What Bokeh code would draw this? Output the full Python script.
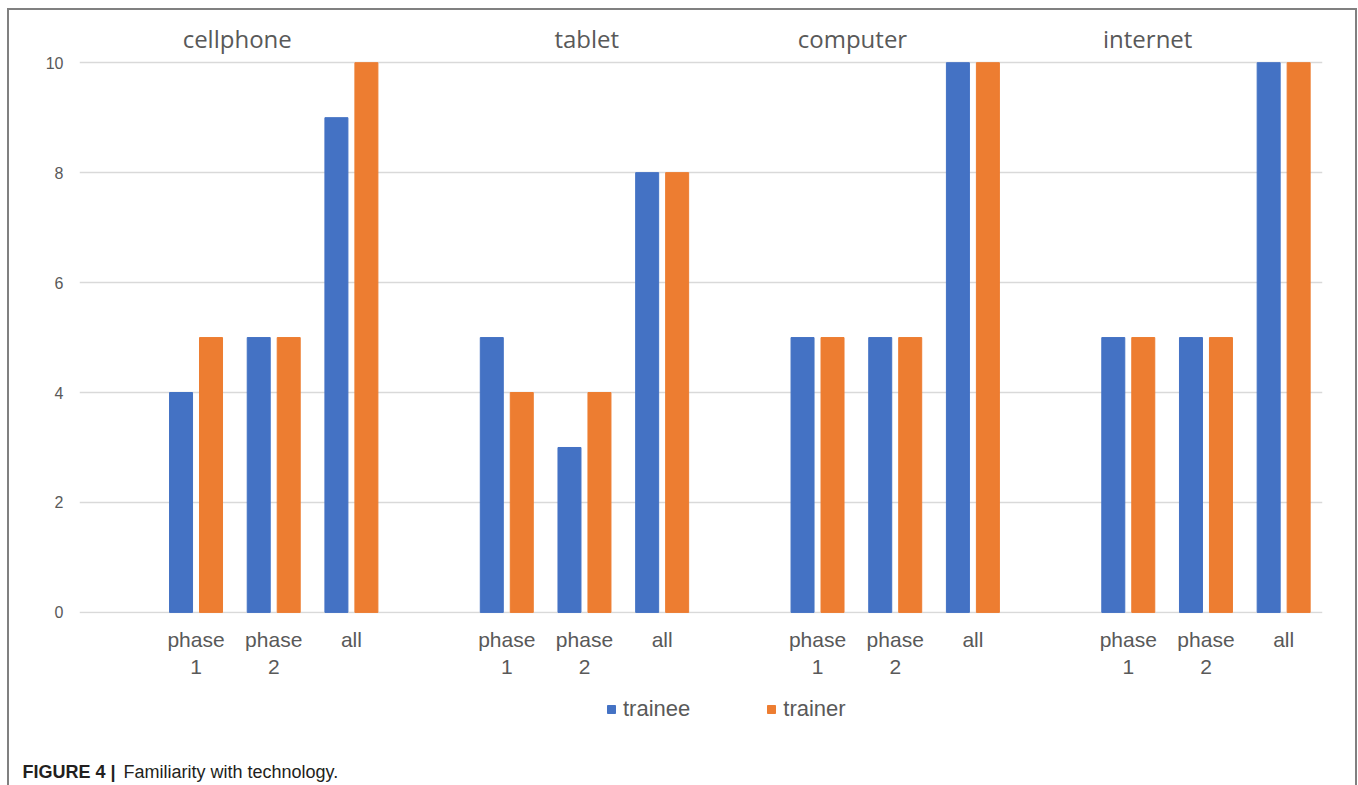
from bokeh.plotting import figure
from bokeh.models import (ColumnDataSource, Range1d, Legend, LegendItem, FixedTicker,
                          LinearAxis, Label)
from bokeh.layouts import column
from bokeh.transform import dodge
from bokeh.embed import file_html
from bokeh.resources import INLINE

# ---- data ----
groups = ["cellphone", "tablet", "computer", "internet"]
phases = ["phase 1", "phase 2", "all"]
phase_labels = ["phase\n1", "phase\n2", "all"]
trainee = [4, 5, 9, 5, 3, 8, 5, 5, 10, 5, 5, 10]
trainer = [5, 5, 10, 4, 4, 8, 5, 5, 10, 5, 5, 10]
y_ticks = [0, 2, 4, 6, 8, 10]
series_names = ["trainee", "trainer"]
caption_bold = "FIGURE 4 |"
caption_text = "Familiarity with technology."

BLUE = "#4472C4"
ORANGE = "#ED7D31"
GREY = "#595959"

# category slots: each group = one empty slot + the three phases
slots_per_group = len(phases) + 1
bar_pos, bar_lab = [], []
for gi, g in enumerate(groups):
    for pj, lab in enumerate(phase_labels):
        bar_pos.append(gi * slots_per_group + 1 + pj + 0.5)
        bar_lab.append(lab)
n_slots = len(groups) * slots_per_group

src = ColumnDataSource(dict(x=bar_pos, trainee=trainee, trainer=trainer))

# content box (inside the outer border)
CW, PH, BH = 1346, 680, 95
p = figure(width=CW, height=PH, x_range=Range1d(0, n_slots), y_range=Range1d(-0.02, 10.04),
           output_backend="svg", toolbar_location=None,
           min_border_left=70, min_border_right=33, min_border_top=50, min_border_bottom=77)
p.frame_align = False
p.outline_line_color = None
p.border_fill_color = "white"

r1 = p.vbar(x=dodge("x", -0.193), top="trainee", width=0.296, source=src,
            fill_color=BLUE, line_color=BLUE)
r2 = p.vbar(x=dodge("x", 0.193), top="trainer", width=0.296, source=src,
            fill_color=ORANGE, line_color=ORANGE)

# x axis (category labels)
xa = p.xaxis[0]
xa.ticker = FixedTicker(ticks=bar_pos)
xa.major_label_overrides = {pos: lab for pos, lab in zip(bar_pos, bar_lab)}
xa.axis_line_color = None
xa.major_tick_line_color = None
xa.minor_tick_line_color = None
xa.major_tick_out = 0
xa.major_label_text_font = "Liberation Sans"
xa.major_label_text_font_size = "21px"
xa.major_label_text_color = GREY
xa.major_label_standoff = 14

# group titles drawn as an axis above the plot
title_x = [2.03, 6.53, 9.95, 13.75]
ta = LinearAxis(ticker=FixedTicker(ticks=title_x),
                major_label_overrides={tx: g for tx, g in zip(title_x, groups)},
                axis_line_color=None, major_tick_line_color=None, minor_tick_line_color=None,
                major_tick_out=0, major_label_standoff=6,
                major_label_text_font="Open Sans", major_label_text_font_size="24px",
                major_label_text_color=GREY)
p.add_layout(ta, "above")

# y axis
p.yaxis.ticker = FixedTicker(ticks=y_ticks)
p.yaxis.axis_line_color = None
p.yaxis.major_tick_line_color = None
p.yaxis.minor_tick_line_color = None
p.yaxis.major_tick_out = 0
p.yaxis.major_label_text_font = "Liberation Sans"
p.yaxis.major_label_text_font_size = "16px"
p.yaxis.major_label_text_color = GREY
p.yaxis.major_label_standoff = 16

p.xgrid.grid_line_color = None
p.ygrid.grid_line_color = "#d9d9d9"
p.ygrid.grid_line_width = 1.5
p.ygrid.ticker = FixedTicker(ticks=y_ticks)

# bottom strip: legend + caption (pixel-unit ranges)
q = figure(width=CW, height=BH, x_range=Range1d(0, CW), y_range=Range1d(0, BH),
           output_backend="svg", toolbar_location=None,
           x_axis_location=None, y_axis_location=None,
           min_border_left=0, min_border_right=0, min_border_top=0, min_border_bottom=0)
q.frame_align = False
q.outline_line_color = None
q.xgrid.visible = False
q.ygrid.visible = False
q.border_fill_color = "white"
# legend proxies (same series, not drawn in this strip)
l1 = q.vbar(x="x", top="trainee", width=1, source=src, fill_color=BLUE, line_color=BLUE,
            visible=False)
l2 = q.vbar(x="x", top="trainer", width=1, source=src, fill_color=ORANGE, line_color=ORANGE,
            visible=False)

legend = Legend(items=[LegendItem(label=series_names[0], renderers=[l1]),
                       LegendItem(label=series_names[1], renderers=[l2])],
                orientation="horizontal", location=(597, 63),
                glyph_width=10, glyph_height=10, label_standoff=7, spacing=76,
                padding=0, margin=0, border_line_color=None, background_fill_alpha=0,
                inactive_fill_alpha=0,
                label_text_font="Liberation Sans", label_text_font_size="22px",
                label_text_color=GREY)
q.add_layout(legend, "center")

q.add_layout(Label(x=13, y=14, text=caption_bold, text_baseline="alphabetic",
                   text_font="Liberation Sans", text_font_style="bold", text_font_size="18px",
                   text_color="#231f20"))
q.add_layout(Label(x=114, y=14, text=caption_text, text_baseline="alphabetic",
                   text_font="Liberation Sans", text_font_size="18px", text_color="#231f20"))

layout = column(p, q, spacing=0,
                styles={"margin-left": "7px", "margin-top": "8px",
                        "border-top": "2px solid #808080", "border-left": "2px solid #808080",
                        "border-right": "2px solid #808080", "background-color": "white"})

open("out.html", "w").write(file_html(layout, INLINE))
